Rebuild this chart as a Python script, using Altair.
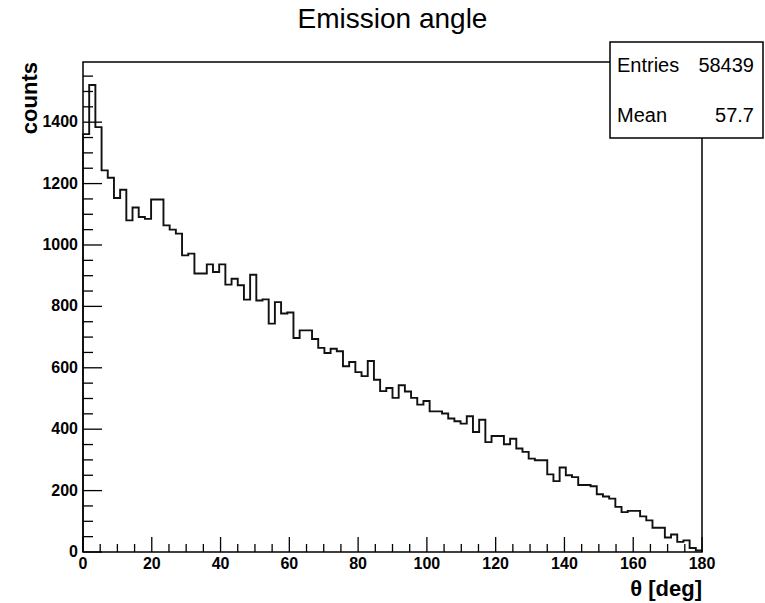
import altair as alt
import pandas as pd

# ---- data (100 bins over 0..180 deg) ----
bin_width = 1.8
counts = [1361, 1521, 1384, 1243, 1219, 1153, 1180, 1080, 1122, 1091,
          1085, 1148, 1148, 1064, 1050, 1037, 966, 972, 907, 907,
          937, 912, 937, 871, 890, 869, 822, 903, 819, 823,
          744, 814, 777, 780, 697, 722, 722, 694, 665, 648,
          662, 654, 605, 619, 586, 573, 622, 561, 524, 534,
          502, 543, 523, 502, 480, 492, 458, 458, 451, 435,
          426, 418, 442, 391, 431, 358, 378, 378, 351, 369,
          337, 326, 304, 299, 299, 253, 231, 275, 250, 244,
          218, 218, 214, 188, 181, 174, 147, 130, 134, 134,
          116, 103, 79, 79, 47, 57, 33, 38, 13, 5]

x_major = [0, 20, 40, 60, 80, 100, 120, 140, 160, 180]
x_minor = [v for v in range(0, 181, 5) if v % 20 != 0]
y_major = [0, 200, 400, 600, 800, 1000, 1200, 1400]
y_minor = [v for v in range(0, 1551, 50) if v % 200 != 0]

stat_names = ["Entries", "Mean"]
stat_values = ["58439", "57.7"]
title_text = "Emission angle"
x_title = "θ [deg]"
y_title = "counts"

# ---- build step outline table ----
n = len(counts)
edges = [round(i * bin_width, 4) for i in range(n)]
xs = [0.0] + edges + [180.0, 180.0]
ys = [0] + counts + [counts[-1], 0]
hist = pd.DataFrame({"x": xs, "y": ys, "i": list(range(len(xs)))})

W, H = 619, 490
FONT = "Liberation Sans"
xscale = alt.Scale(domain=[0, 180], nice=False, zero=False)
yscale = alt.Scale(domain=[0, 1596], nice=False, zero=False)

line = alt.Chart(hist).mark_line(
    interpolate="step-after", color="#111111", strokeWidth=1.9
).encode(
    x=alt.X("x:Q", scale=xscale, axis=None),
    y=alt.Y("y:Q", scale=yscale, axis=None),
    order=alt.Order("i:Q"),
)

def xticks(vals, length):
    return alt.Chart(pd.DataFrame({"v": vals})).mark_rule(
        color="black", strokeWidth=1.3
    ).encode(
        x=alt.X("v:Q", scale=xscale, axis=None),
        y=alt.value(H), y2=alt.value(H - length),
    )

def yticks(vals, length):
    return alt.Chart(pd.DataFrame({"v": vals})).mark_rule(
        color="black", strokeWidth=1.3
    ).encode(
        y=alt.Y("v:Q", scale=yscale, axis=None),
        x=alt.value(0), x2=alt.value(length),
    )

xlabels = alt.Chart(pd.DataFrame({"v": x_major})).mark_text(
    font=FONT, fontSize=16, fontWeight="bold", align="center",
    baseline="top", color="black"
).encode(
    x=alt.X("v:Q", scale=xscale, axis=None),
    y=alt.value(H + 4),
    text=alt.Text("v:Q", format="d"),
)

ylabels = alt.Chart(pd.DataFrame({"v": y_major})).mark_text(
    font=FONT, fontSize=16, fontWeight="bold", align="right",
    baseline="middle", color="black"
).encode(
    y=alt.Y("v:Q", scale=yscale, axis=None),
    x=alt.value(-5),
    text=alt.Text("v:Q", format="d"),
)

one = pd.DataFrame({"k": [0]})

def label(text, x, y, size, align="left", weight="normal", angle=0):
    return alt.Chart(one).mark_text(
        font=FONT, fontSize=size, fontWeight=weight, align=align,
        baseline="alphabetic", color="black", angle=angle
    ).encode(x=alt.value(x), y=alt.value(y), text=alt.value(text))

box = alt.Chart(one).mark_rect(
    fill="white", stroke="black", strokeWidth=1.5
).encode(x=alt.value(527), x2=alt.value(680), y=alt.value(-20), y2=alt.value(76))

layers = [
    line,
    xticks(x_major, 15), xticks(x_minor, 8),
    yticks(y_major, 19), yticks(y_minor, 10),
    xlabels, ylabels,
    label(x_title, W, H + 44, 22, "right", "bold"),
    label(y_title, -46, 0, 22, "right", "bold", 270),
    box,
    label(stat_names[0], 534, 10, 20), label(stat_values[0], 671, 10, 20, "right"),
    label(stat_names[1], 534, 60, 20), label(stat_values[1], 671, 60, 20, "right"),
    label(title_text, W / 2, -34, 28, "center"),
]

chart = alt.layer(*layers).properties(
    width=W, height=H,
    autosize=alt.AutoSizeParams(type="none"),
    padding={"left": 83, "top": 62, "right": 63, "bottom": 51},
    background="white",
).configure_view(stroke="black", strokeWidth=1.5)

chart.save("out.html", embed_options={"renderer": "svg", "actions": False})
